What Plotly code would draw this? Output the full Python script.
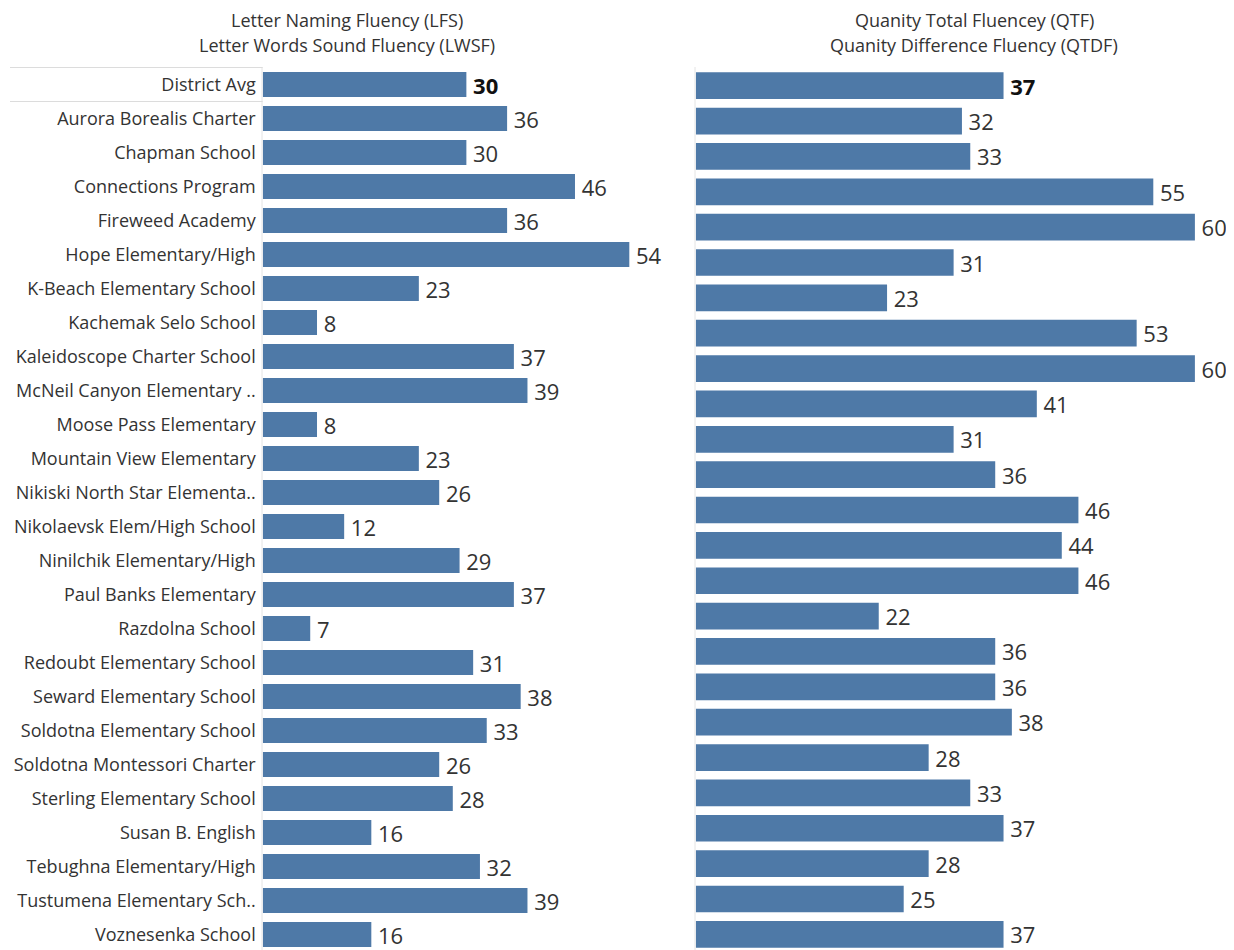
import plotly.graph_objects as go

# page is 1234x950; the html body adds an 8px margin, so the figure is drawn 8px in
OFF = 8
W, H = 1234 - OFF, 950 - OFF

schools = [
    "District Avg", "Aurora Borealis Charter", "Chapman School", "Connections Program",
    "Fireweed Academy", "Hope Elementary/High", "K-Beach Elementary School",
    "Kachemak Selo School", "Kaleidoscope Charter School", "McNeil Canyon Elementary ..",
    "Moose Pass Elementary", "Mountain View Elementary", "Nikiski North Star Elementa..",
    "Nikolaevsk Elem/High School", "Ninilchik Elementary/High", "Paul Banks Elementary",
    "Razdolna School", "Redoubt Elementary School", "Seward Elementary School",
    "Soldotna Elementary School", "Soldotna Montessori Charter", "Sterling Elementary School",
    "Susan B. English", "Tebughna Elementary/High", "Tustumena Elementary Sch..",
    "Voznesenka School",
]
lfs_values = [30, 36, 30, 46, 36, 54, 23, 8, 37, 39, 8, 23, 26, 12, 29, 37, 7, 31, 38, 33,
              26, 28, 16, 32, 39, 16]

qtf_rows = list(range(25))
qtf_values = [37, 32, 33, 55, 60, 31, 23, 53, 60, 41, 31, 36, 46, 44, 46, 22, 36, 36, 38, 28,
              33, 37, 28, 25, 37]

BAR = "#4e79a7"
TXT = "#333333"
FONT = "Open Sans"
GAP = "\u2006"  # small lead space between bar end and value label


def labels(vals):
    return [f"{GAP}<b>{v}</b>" if i == 0 else f"{GAP}{v}" for i, v in enumerate(vals)]


def colors(vals):
    return ["#111111" if i == 0 else TXT for i in range(len(vals))]


def px(p):
    return p - OFF


fig = go.Figure()
fig.add_trace(go.Bar(
    x=lfs_values, y=schools, orientation="h", xaxis="x", yaxis="y",
    marker=dict(color=BAR, line=dict(width=0)), width=0.74,
    text=labels(lfs_values), textposition="outside", constraintext="none",
    textfont=dict(size=22, color=colors(lfs_values), family=FONT),
    cliponaxis=False, hoverinfo="x+y",
))
fig.add_trace(go.Bar(
    x=qtf_values, y=qtf_rows, orientation="h", xaxis="x2", yaxis="y2",
    marker=dict(color=BAR, line=dict(width=0)), width=0.755,
    text=labels(qtf_values), textposition="outside", constraintext="none",
    textfont=dict(size=22, color=colors(qtf_values), family=FONT),
    cliponaxis=False, hoverinfo="x",
))

lx0 = px(262.7)
rx0 = px(695.7)
lx1 = px(680)
l_scale = 6.789
r_scale = 8.32

l_sp, l_c0 = 34.0, px(84.5)
r_sp, r_c0 = 35.36, px(85.7)

fig.update_layout(
    width=W, height=H, margin=dict(l=0, r=0, t=0, b=0),
    paper_bgcolor="white", plot_bgcolor="white", showlegend=False,
    font=dict(family=FONT, color=TXT),
    xaxis=dict(domain=[lx0 / W, lx1 / W], range=[0, (lx1 - lx0) / l_scale],
               visible=False, fixedrange=True),
    yaxis=dict(domain=[0, 1], type="category", categoryarray=schools,
               range=[(H - l_c0) / l_sp, -l_c0 / l_sp],
               showgrid=False, zeroline=False, showline=False, ticks="",
               ticklabelstandoff=6, tickfont=dict(size=18, color=TXT, family=FONT),
               anchor="x", fixedrange=True),
    xaxis2=dict(domain=[rx0 / W, 1], range=[0, (W - rx0) / r_scale],
                visible=False, fixedrange=True),
    yaxis2=dict(domain=[0, 1], range=[(H - r_c0) / r_sp, -r_c0 / r_sp],
                showgrid=False, zeroline=False, showline=False, showticklabels=False,
                ticks="", anchor="x2", fixedrange=True),
)

# axis baselines and separator lines
for x0 in (lx0, rx0):
    fig.add_shape(type="line", xref="paper", yref="paper", x0=(x0 - 0.7) / W, x1=(x0 - 0.7) / W,
                  y0=0, y1=1 - px(67) / H, line=dict(color="#e4e4e4", width=1))
for yy in (-0.5, 0.5):
    fig.add_shape(type="line", xref="paper", yref="y", x0=px(10) / W, x1=lx0 / W,
                  y0=yy, y1=yy, line=dict(color="#dcdcdc", width=1))

titles = [
    (347, 20, "Letter Naming Fluency (LFS)"),
    (347, 45, "Letter Words Sound Fluency (LWSF)"),
    (974, 20, "Quanity Total Fluencey (QTF)"),
    (974, 45, "Quanity Difference Fluency (QTDF)"),
]
for x, y, t in titles:
    fig.add_annotation(x=px(x) / W, y=1 - px(y) / H, xref="paper", yref="paper", text=t,
                       showarrow=False, xanchor="center", yanchor="middle", borderpad=0,
                       font=dict(size=18, color=TXT, family=FONT))

fig.write_html("out.html")
